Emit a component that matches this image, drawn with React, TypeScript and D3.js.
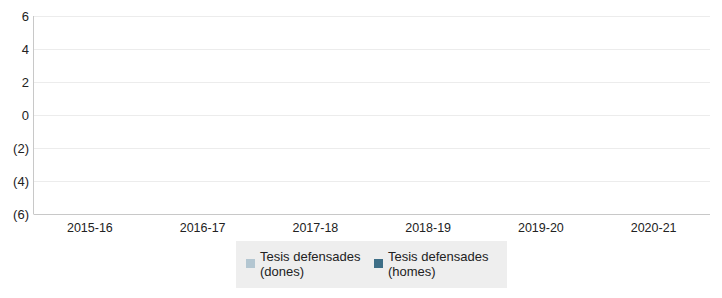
import React from "react";
import * as d3 from "d3";

const categories = ["2015-16", "2016-17", "2017-18", "2018-19", "2019-20", "2020-21"];
const seriesNames = ["Tesis defensades (dones)", "Tesis defensades (homes)"];
const seriesColors = ["#b3c6d1", "#3e6f87"];
const donesValues: (number | null)[] = [null, null, null, null, null, null];
const homesValues: (number | null)[] = [null, null, null, null, null, null];
const yTicks = [-6, -4, -2, 0, 2, 4, 6];

const W = 722;
const H = 298;
const left = 33.5;
const right = 710;
const top = 16;
const bottom = 214;

export default function App() {
  const x = d3.scaleBand<string>().domain(categories).range([left, right]).paddingInner(0.2).paddingOuter(0.1);
  const x0 = d3.scaleBand<string>().domain(categories).range([left, right]);
  const y = d3.scaleLinear().domain([-6, 6]).range([bottom, top]);
  const xs = d3.scaleBand<number>().domain([0, 1]).range([0, x.bandwidth()]);
  const fmt = (v: number) => (v < 0 ? `(${Math.abs(v)})` : `${v}`);
  const series = [donesValues, homesValues];
  const font = "'Liberation Sans', Arial, sans-serif";

  return (
    <svg width={W} height={H} style={{ position: "absolute", left: 0, top: 0, fontFamily: font }}>
      {yTicks.map((t) => (
        <g key={t}>
          {t !== -6 && (
            <line x1={left} x2={right} y1={Math.round(y(t)) + 0.5} y2={Math.round(y(t)) + 0.5} stroke="#ececec" />
          )}
          <text x={29} y={y(t) + 0.5} dy="0.35em" textAnchor="end" fontSize={13} fill="#222">
            {fmt(t)}
          </text>
        </g>
      ))}
      {series.map((vals, si) =>
        vals.map((v, i) =>
          v == null ? null : (
            <rect
              key={`${si}-${i}`}
              x={(x(categories[i]) ?? 0) + (xs(si) ?? 0)}
              width={xs.bandwidth()}
              y={y(Math.max(0, v))}
              height={Math.abs(y(v) - y(0))}
              fill={seriesColors[si]}
            />
          )
        )
      )}
      <line x1={left} x2={left} y1={top} y2={bottom} stroke="#c8c8c8" />
      <line x1={left} x2={right} y1={bottom + 0.5} y2={bottom + 0.5} stroke="#c8c8c8" />
      {categories.map((c) => (
        <text key={c} x={(x0(c) ?? 0) + x0.bandwidth() / 2} y={231.5} textAnchor="middle" fontSize={12.5} fill="#222">
          {c}
        </text>
      ))}
      <rect x={236} y={241} width={271} height={47} fill="#eeeeee" />
      {seriesNames.map((n, i) => {
        const bx = i === 0 ? 246 : 374;
        const parts = n.split(" (");
        return (
          <g key={n}>
            <rect x={bx} y={259} width={9} height={9} fill={seriesColors[i]} />
            <text x={bx + 14} y={261} fontSize={13} fill="#222">
              {parts[0]}
            </text>
            <text x={bx + 14} y={275.5} fontSize={13} fill="#222">
              {"(" + parts[1]}
            </text>
          </g>
        );
      })}
    </svg>
  );
}
